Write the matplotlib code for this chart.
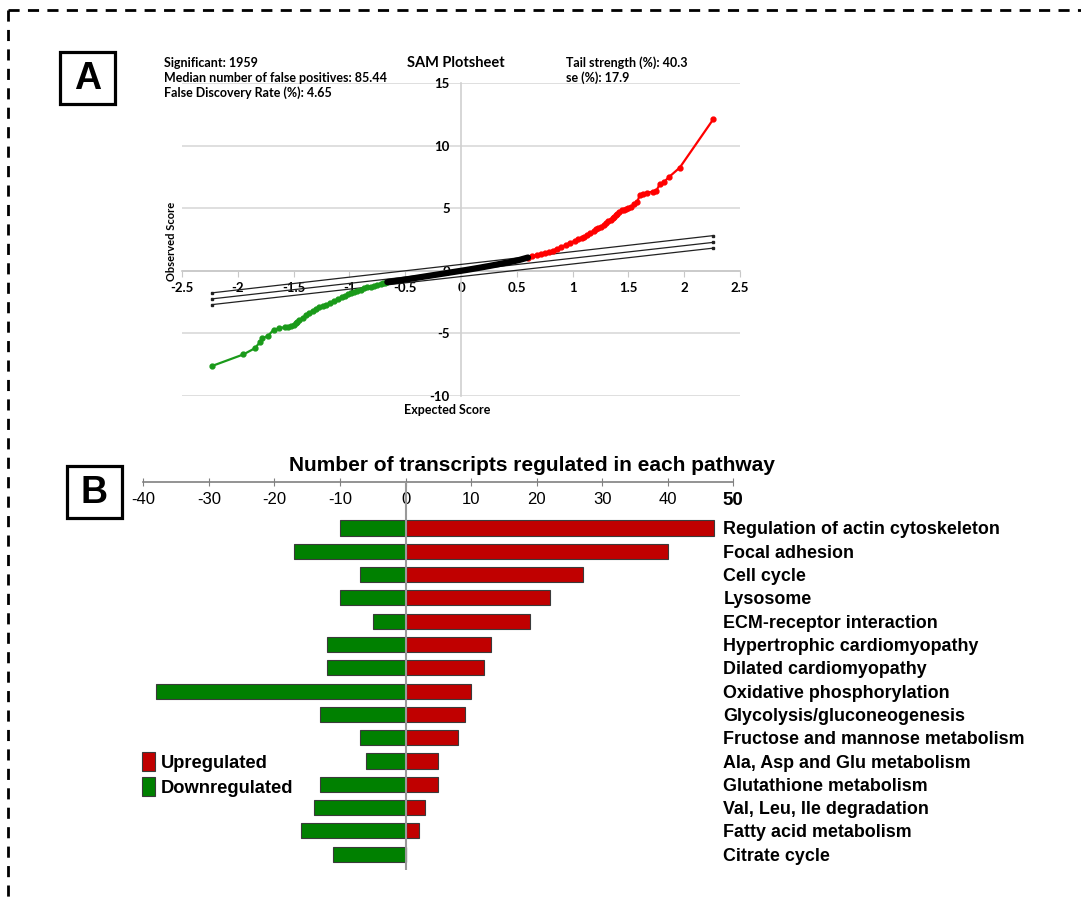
import matplotlib
matplotlib.use('Agg')
import matplotlib.pyplot as plt
from matplotlib.lines import Line2D
from matplotlib.patches import Rectangle

W, H = 1081, 897

# ---- panel A: SAM plot (observed vs expected score) ----
green_x = [-2.23, -1.95, -1.85, -1.80, -1.78, -1.73, -1.68, -1.63, -1.58, -1.55,
           -1.52, -1.50, -1.48, -1.47, -1.45, -1.42, -1.39, -1.36, -1.33, -1.30,
           -1.27, -1.24, -1.21, -1.17, -1.14, -1.10, -1.07, -1.04, -1.01, -0.99,
           -0.96, -0.93, -0.90, -0.87, -0.84, -0.81, -0.78, -0.75, -0.72, -0.70,
           -0.68, -0.66]
green_y = [-7.6, -6.68, -6.2, -5.7, -5.39, -5.2, -4.72, -4.6, -4.5, -4.45,
           -4.4, -4.34, -4.2, -4.05, -3.95, -3.75, -3.55, -3.37, -3.2, -3.05,
           -2.92, -2.8, -2.7, -2.57, -2.4, -2.25, -2.12, -2.0, -1.88, -1.76,
           -1.68, -1.6, -1.5, -1.4, -1.33, -1.27, -1.18, -1.1, -1.03, -0.98,
           -0.94, -0.9]
black_x = [-0.66, -0.55, -0.45, -0.35, -0.25, -0.15, -0.05, 0.05, 0.15, 0.25,
           0.35, 0.45, 0.52, 0.60]
black_y = [-0.9, -0.77, -0.63, -0.49, -0.35, -0.21, -0.07, 0.07, 0.22, 0.38,
           0.55, 0.72, 0.86, 1.06]
red_x = [0.60, 0.64, 0.68, 0.72, 0.75, 0.79, 0.82, 0.86, 0.90, 0.94, 0.98,
         1.02, 1.05, 1.08, 1.10, 1.13, 1.16, 1.19, 1.21, 1.23, 1.25, 1.28,
         1.30, 1.32, 1.34, 1.36, 1.37, 1.39, 1.40, 1.42, 1.44, 1.46, 1.48,
         1.50, 1.52, 1.55, 1.58, 1.60, 1.63, 1.67, 1.72, 1.75, 1.78, 1.82,
         1.86, 1.96, 2.26]
red_y = [1.06, 1.15, 1.25, 1.34, 1.42, 1.52, 1.62, 1.76, 1.9, 2.08, 2.25,
         2.38, 2.5, 2.6, 2.68, 2.84, 3.0, 3.15, 3.3, 3.4, 3.5, 3.68,
         3.85, 3.94, 4.02, 4.18, 4.3, 4.45, 4.56, 4.7, 4.82, 4.88, 4.95,
         5.02, 5.1, 5.3, 5.5, 6.03, 6.15, 6.25, 6.32, 6.39, 6.9, 7.1,
         7.46, 8.24, 12.1]
ref_x = [-2.23, 2.26]
ref_upper = [-1.76, 2.81]
ref_mid = [-2.24, 2.27]
ref_lower = [-2.70, 1.81]

x_ticks_a = [-2.5, -2, -1.5, -1, -0.5, 0, 0.5, 1, 1.5, 2, 2.5]
y_ticks_a = [-10, -5, 0, 5, 10, 15]

stats_left = ['Significant: 1959',
              'Median number of false positives: 85.44',
              'False Discovery Rate (%): 4.65']
stats_right = ['Tail strength (%): 40.3', 'se (%): 17.9']

# ---- panel B: transcripts per pathway ----
pathways = ['Regulation of actin cytoskeleton', 'Focal adhesion', 'Cell cycle',
            'Lysosome', 'ECM-receptor interaction', 'Hypertrophic cardiomyopathy',
            'Dilated cardiomyopathy', 'Oxidative phosphorylation',
            'Glycolysis/gluconeogenesis', 'Fructose and mannose metabolism',
            'Ala, Asp and Glu metabolism', 'Glutathione metabolism',
            'Val, Leu, Ile degradation', 'Fatty acid metabolism', 'Citrate cycle']
up = [47, 40, 27, 22, 19, 13, 12, 10, 9, 8, 5, 5, 3, 2, 0]
down = [-10, -17, -7, -10, -5, -12, -12, -38, -13, -7, -6, -13, -14, -16, -11]
x_ticks_b = [-40, -30, -20, -10, 0, 10, 20, 30, 40, 50]


def fx(px):
    return px / W


def fy(py):
    return 1 - py / H


fig = plt.figure(figsize=(W / 100, H / 100), dpi=100)

# dashed frame (top and left)
dash = dict(color='black', lw=2, linestyle=(0, (4, 3)), transform=fig.transFigure)
fig.add_artist(Line2D([fx(8), 1], [fy(10), fy(10)], **dash))
fig.add_artist(Line2D([fx(8), fx(8)], [fy(10), 0], **dash))

# panel letters
for letter, x0, y0 in [('A', 60, 52), ('B', 67, 466)]:
    fig.add_artist(Rectangle((fx(x0), fy(y0 + 52)), 55 / W, 52 / H, fill=False,
                             lw=2.3, ec='black', transform=fig.transFigure))
    fig.text(fx(x0 + 27.5), fy(y0 + 27), letter, ha='center', va='center',
             fontsize=27, fontweight='bold', family='Liberation Sans')

# ================= panel A =================
axA = fig.add_axes([fx(182), fy(396), (740 - 182) / W, (396 - 83) / H])
axA.set_xlim(-2.5, 2.5)
axA.set_ylim(-10, 15)
for s in ['top', 'right']:
    axA.spines[s].set_visible(False)
axA.spines['left'].set_position(('data', 0))
axA.spines['bottom'].set_position(('data', 0))
axA.spines['left'].set_color('#d0d0d0')
axA.spines['bottom'].set_color('#c8c8c8')
axA.spines['left'].set_linewidth(1.2)
axA.spines['bottom'].set_linewidth(1.2)
axA.set_yticks(y_ticks_a)
axA.set_xticks(x_ticks_a)
axA.set_xticklabels([f'{v:g}' for v in x_ticks_a])
axA.set_yticklabels([f'{v:g}' for v in y_ticks_a])
axA.grid(axis='y', color='#d9d9d9', lw=1.2)
axA.set_axisbelow(True)
afont = dict(family='Lato', fontweight='bold', fontsize=9)
axA.tick_params(axis='x', length=4, color='#c8c8c8', direction='out', pad=4,
                labelsize=9.5)
axA.tick_params(axis='y', length=0, pad=8, labelsize=9.5)
for lab in axA.get_xticklabels() + axA.get_yticklabels():
    lab.set_family('Lato')
    lab.set_fontweight('bold')

for yy in [ref_upper, ref_mid, ref_lower]:
    axA.plot(ref_x, yy, color='#222222', lw=0.9, marker='s', ms=2, zorder=3)
axA.plot(green_x, green_y, color='#1a9a1a', lw=1.6, marker='o', ms=3.5, zorder=4)
axA.plot(black_x, black_y, color='black', lw=4.5, solid_capstyle='round', zorder=5)
axA.plot(red_x, red_y, color='#ff0000', lw=1.6, marker='o', ms=3.5, zorder=4)

axA.set_xlabel('Expected Score', **afont)
axA.xaxis.set_label_coords(0.475, -0.024)
axA.set_ylabel('Observed Score', family='Lato', fontweight='bold', fontsize=8)
axA.yaxis.set_label_coords(-0.009, 0.495)

for i, t in enumerate(stats_left):
    fig.text(fx(164), fy(63 + i * 15), t, ha='left', va='center', **afont)
for i, t in enumerate(stats_right):
    fig.text(fx(566), fy(63 + i * 15), t, ha='left', va='center', **afont)
fig.text(fx(456), fy(63), 'SAM Plotsheet', ha='center', va='center',
         family='Lato', fontweight='bold', fontsize=10.5)

# ================= panel B =================
top_px, bot_px = 482, 870
row0, step = 528, 23.3
axB = fig.add_axes([fx(143.3), fy(bot_px), (733.3 - 143.3) / W, (bot_px - top_px) / H])
rows = list(range(len(pathways)))
b_up = axB.barh(rows, up, height=0.65, color='#c00000', edgecolor='#3a3a3a',
                lw=0.8, label='Upregulated', zorder=2)
b_dn = axB.barh(rows, down, height=0.65, color='#008000', edgecolor='#3a3a3a',
                lw=0.8, label='Downregulated', zorder=2)
axB.axvline(0, color='#999999', lw=1.5, zorder=3)
axB.set_xlim(-40, 50)
axB.set_ylim((bot_px - row0) / step, (top_px - row0) / step)

for s in ['top', 'right', 'left']:
    axB.spines[s].set_visible(False)
axB.spines['bottom'].set_position(('axes', 1.0))
axB.spines['bottom'].set_color('#808080')
axB.spines['bottom'].set_linewidth(1.2)
axB.set_xticks(x_ticks_b)
axB.set_xticklabels([str(v) for v in x_ticks_b])
axB.tick_params(axis='x', direction='inout', length=6, color='#808080', pad=4,
                labelsize=12)
for lab in axB.get_xticklabels():
    lab.set_family('Liberation Sans')
lab50 = axB.get_xticklabels()[-1]
lab50.set_fontsize(13.5)
lab50.set_fontweight('bold')

axB.set_yticks(rows)
axB.set_yticklabels(pathways)
axB.tick_params(axis='y', left=False, labelleft=False, right=False,
                labelright=True, length=0, pad=-7.2)
for lab in axB.get_yticklabels():
    lab.set_family('Liberation Sans')
    lab.set_fontweight('bold')
    lab.set_fontsize(12.9)

fig.text(fx(532), fy(465), 'Number of transcripts regulated in each pathway',
         ha='center', va='center', family='Liberation Sans', fontweight='bold',
         fontsize=15)

axB.legend(handles=[b_up, b_dn], loc='upper left',
           bbox_to_anchor=(fx(142), fy(752)), bbox_transform=fig.transFigure,
           frameon=False, handlelength=0.7, handleheight=1.2, handletextpad=0.35,
           labelspacing=0.3, borderpad=0, borderaxespad=0,
           prop=dict(family='Liberation Sans', weight='bold', size=13.2))

fig.savefig('out.png', dpi=100)
